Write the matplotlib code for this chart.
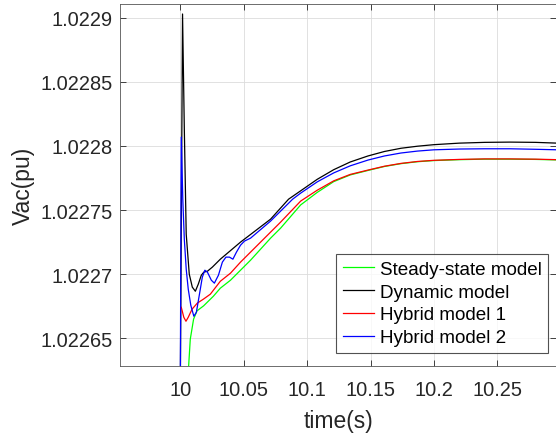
import matplotlib
matplotlib.use('Agg')
import matplotlib.pyplot as plt
from matplotlib.ticker import FixedLocator, FixedFormatter

plt.rcParams['font.family'] = ['Liberation Sans', 'DejaVu Sans']

# time (s) and Vac (pu)
T_STEADY = [10.0055, 10.0066, 10.0079, 10.0105, 10.0132, 10.0184, 10.0261, 10.0316,
            10.0396, 10.0475, 10.0554, 10.0633, 10.0712, 10.0791, 10.0949, 10.108,
            10.121, 10.134, 10.148, 10.161, 10.174, 10.187, 10.200, 10.220, 10.240,
            10.260, 10.280, 10.297]
V_STEADY = [1.0225868, 1.0226282, 1.0226493, 1.0226649, 1.0226714, 1.0226753, 1.0226828,
            1.0226891, 1.0226953, 1.0227031, 1.0227109, 1.0227195, 1.0227281, 1.0227359,
            1.0227540, 1.0227638, 1.0227722, 1.0227774, 1.0227809, 1.0227840, 1.0227862,
            1.0227877, 1.0227886, 1.0227893, 1.0227897, 1.0227897, 1.0227895, 1.0227891]

T_DYNAMIC = [10.0000, 10.0018, 10.0032, 10.0047, 10.0071, 10.0095, 10.0119, 10.0142,
             10.0166, 10.0186, 10.0214, 10.0253, 10.0316, 10.0475, 10.0712, 10.0854,
             10.0949, 10.108, 10.121, 10.134, 10.148, 10.161, 10.174, 10.187, 10.200,
             10.220, 10.240, 10.260, 10.280, 10.297]
V_DYNAMIC = [1.0226024, 1.0229029, 1.0228132, 1.0227312, 1.0227000, 1.0226899, 1.0226867,
             1.0226922, 1.0226992, 1.0227016, 1.0227023, 1.0227055, 1.0227117, 1.0227250,
             1.0227429, 1.0227585, 1.0227650, 1.0227740, 1.0227815, 1.0227875, 1.0227922,
             1.0227957, 1.0227982, 1.0227998, 1.0228010, 1.0228022, 1.0228028, 1.0228030,
             1.0228028, 1.0228022]

T_HYBRID1 = [10.0008, 10.0028, 10.0045, 10.0063, 10.0093, 10.0134, 10.0182, 10.0237,
             10.0316, 10.0396, 10.0475, 10.0554, 10.0633, 10.0712, 10.0791, 10.0949,
             10.108, 10.121, 10.134, 10.148, 10.161, 10.174, 10.187, 10.200, 10.220,
             10.240, 10.260, 10.280, 10.297]
V_HYBRID1 = [1.0226742, 1.0226664, 1.0226633, 1.0226664, 1.0226727, 1.0226774, 1.0226805,
             1.0226844, 1.0226945, 1.0227008, 1.0227094, 1.0227172, 1.0227250, 1.0227328,
             1.0227406, 1.0227570, 1.0227655, 1.0227728, 1.0227778, 1.0227812, 1.0227842,
             1.0227864, 1.0227879, 1.0227888, 1.0227895, 1.0227899, 1.0227899, 1.0227897,
             1.0227893]

T_HYBRID2 = [10.0000, 10.0008, 10.0020, 10.0032, 10.0047, 10.0063, 10.0083, 10.0107,
             10.0127, 10.0150, 10.0174, 10.0194, 10.0214, 10.0245, 10.0269, 10.0301,
             10.0332, 10.0360, 10.0388, 10.0415, 10.0443, 10.0475, 10.0506, 10.0554,
             10.0712, 10.0886, 10.0949, 10.108, 10.121, 10.134, 10.148, 10.161, 10.174,
             10.187, 10.200, 10.220, 10.240, 10.260, 10.280, 10.297]
V_HYBRID2 = [1.0226024, 1.0228069, 1.0227585, 1.0227273, 1.0227039, 1.0226883, 1.0226758,
             1.0226672, 1.0226703, 1.0226836, 1.0226977, 1.0227031, 1.0227016, 1.0226953,
             1.0226930, 1.0226992, 1.0227094, 1.0227133, 1.0227133, 1.0227117, 1.0227172,
             1.0227226, 1.0227258, 1.0227281, 1.0227414, 1.0227585, 1.0227632, 1.0227720,
             1.0227790, 1.0227845, 1.0227890, 1.0227922, 1.0227945, 1.0227960, 1.0227970,
             1.0227976, 1.0227978, 1.0227978, 1.0227974, 1.0227970]

X_TICKS = [10.0, 10.05, 10.1, 10.15, 10.2, 10.25]
X_LABELS = ['10', '10.05', '10.1', '10.15', '10.2', '10.25']
Y_TICKS = [1.02265, 1.0227, 1.02275, 1.0228, 1.02285, 1.0229]
Y_LABELS = ['1.02265', '1.0227', '1.02275', '1.0228', '1.02285', '1.0229']

TXT = '#262626'
GRID = '#dcdcdc'

fig = plt.figure(figsize=(5.56, 4.35), dpi=100)
ax = fig.add_axes([120 / 556, 68 / 435, 436 / 556, 362 / 435])

ax.plot(T_STEADY, V_STEADY, color='#00ff00', lw=0.9, label='Steady-state model')
ax.plot(T_DYNAMIC, V_DYNAMIC, color='black', lw=0.9, label='Dynamic model')
ax.plot(T_HYBRID1, V_HYBRID1, color='red', lw=0.9, label='Hybrid model 1')
ax.plot(T_HYBRID2, V_HYBRID2, color='blue', lw=0.9, label='Hybrid model 2')

ax.set_xlim(9.9525, 10.2962)
ax.set_ylim(1.0226284, 1.0229107)

ax.xaxis.set_major_locator(FixedLocator(X_TICKS))
ax.xaxis.set_major_formatter(FixedFormatter(X_LABELS))
ax.yaxis.set_major_locator(FixedLocator(Y_TICKS))
ax.yaxis.set_major_formatter(FixedFormatter(Y_LABELS))

ax.grid(True, color=GRID, lw=0.6)
ax.set_axisbelow(True)
ax.tick_params(direction='in', length=4.5, width=0.6, color=TXT, labelcolor=TXT,
               labelsize=14.4, top=True, right=True)
ax.tick_params(axis='x', pad=10)
ax.tick_params(axis='y', pad=5)
for s in ax.spines.values():
    s.set_color('#555555')
    s.set_linewidth(0.6)

ax.set_xlabel('time(s)', fontsize=16.5, color=TXT, labelpad=7)
ax.set_ylabel('Vac(pu)', fontsize=16.5, color=TXT, labelpad=4)

leg = ax.legend(loc='lower right', bbox_to_anchor=(548 / 556, 81 / 435),
                bbox_transform=fig.transFigure, fontsize=13.6, frameon=True,
                fancybox=False, edgecolor='#262626', handlelength=1.65,
                handletextpad=0.3, borderpad=0.35, labelspacing=0.3, borderaxespad=0)
leg.get_frame().set_linewidth(0.8)
for t in leg.get_texts():
    t.set_color('black')

fig.savefig('out.png', dpi=100)
